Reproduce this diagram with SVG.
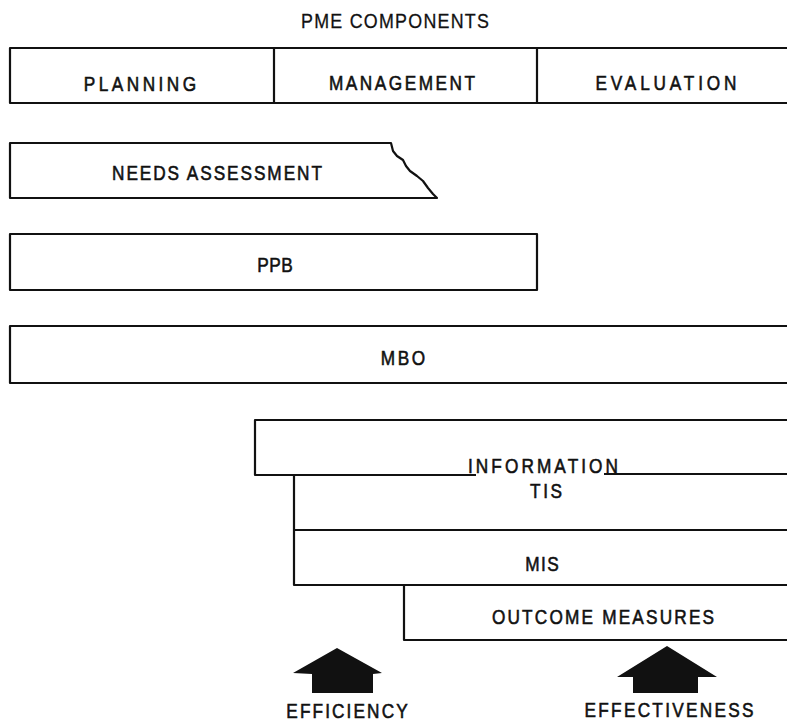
<svg xmlns="http://www.w3.org/2000/svg" width="787" height="723" viewBox="0 0 787 723">
<style>
.box{fill:none;stroke:#111;stroke-width:2.2;stroke-linejoin:round}
.t{font-family:"Liberation Sans",Arial,sans-serif;font-size:21px;fill:#111;stroke:#111;stroke-width:0.6;text-anchor:middle}
.title{font-family:"Liberation Sans",Arial,sans-serif;font-size:21px;fill:#111;stroke:#111;stroke-width:0.3;text-anchor:middle}
.arrow{fill:#111}
</style>
<rect width="787" height="723" fill="#fff"/>
<g id="title"><text class="title" transform="translate(395,28) scale(0.85,1)" textLength="221" lengthAdjust="spacing">PME COMPONENTS</text></g>
<g id="components">
<path class="box" d="M787,48 H10 V103 H787 M274,48 V103 M537,48 V103"/>
<text class="t" transform="translate(140,91) scale(0.82,1)" textLength="137" lengthAdjust="spacing">PLANNING</text>
<text class="t" transform="translate(402,90) scale(0.82,1)" textLength="178" lengthAdjust="spacing">MANAGEMENT</text>
<text class="t" transform="translate(666,90) scale(0.82,1)" textLength="172" lengthAdjust="spacing">EVALUATION</text>
</g>
<g id="needs">
<path class="box" d="M391,143 H10 V198 H437 L433,194 L428,188 L423,181 L417,176 L410,171 L406,166 L403,160 L397,156 L393,151 Z"/>
<text class="t" transform="translate(217,180) scale(0.82,1)" textLength="256" lengthAdjust="spacing">NEEDS ASSESSMENT</text>
</g>
<g id="ppb">
<rect class="box" x="10" y="234" width="527" height="56"/>
<text class="t" transform="translate(275,272) scale(0.82,1)" textLength="43" lengthAdjust="spacing">PPB</text>
</g>
<g id="mbo">
<path class="box" d="M787,326 H10 V383 H787"/>
<text class="t" transform="translate(403,365) scale(0.82,1)" textLength="54" lengthAdjust="spacing">MBO</text>
</g>
<g id="information">
<path class="box" d="M787,420 H255 V475 H476 M604,474 H787"/>
<text class="t" transform="translate(543,473) scale(0.82,1)" textLength="183" lengthAdjust="spacing">INFORMATION</text>
</g>
<g id="tis">
<path class="box" d="M294,475 V530 H787"/>
<text class="t" transform="translate(546,498) scale(0.82,1)" textLength="39" lengthAdjust="spacing">TIS</text>
</g>
<g id="mis">
<path class="box" d="M294,530 V585 H787"/>
<text class="t" transform="translate(542,571) scale(0.82,1)" textLength="41" lengthAdjust="spacing">MIS</text>
</g>
<g id="outcome">
<path class="box" d="M404,585 V640 H787"/>
<text class="t" transform="translate(603,624) scale(0.82,1)" textLength="271" lengthAdjust="spacing">OUTCOME MEASURES</text>
</g>
<g id="connectors">
<g id="efficiency">
<polygon class="arrow" points="337,648 382,673 373,674 373,693 312,693 312,674 293,673"/>
<text class="t" transform="translate(347,718) scale(0.82,1)" textLength="148" lengthAdjust="spacing">EFFICIENCY</text>
</g>
<g id="effectiveness">
<polygon class="arrow" points="667,646 717,677 698,677 698,693 633,693 633,677 617,677"/>
<text class="t" transform="translate(669,717) scale(0.82,1)" textLength="206" lengthAdjust="spacing">EFFECTIVENESS</text>
</g>
</g>
</svg>
